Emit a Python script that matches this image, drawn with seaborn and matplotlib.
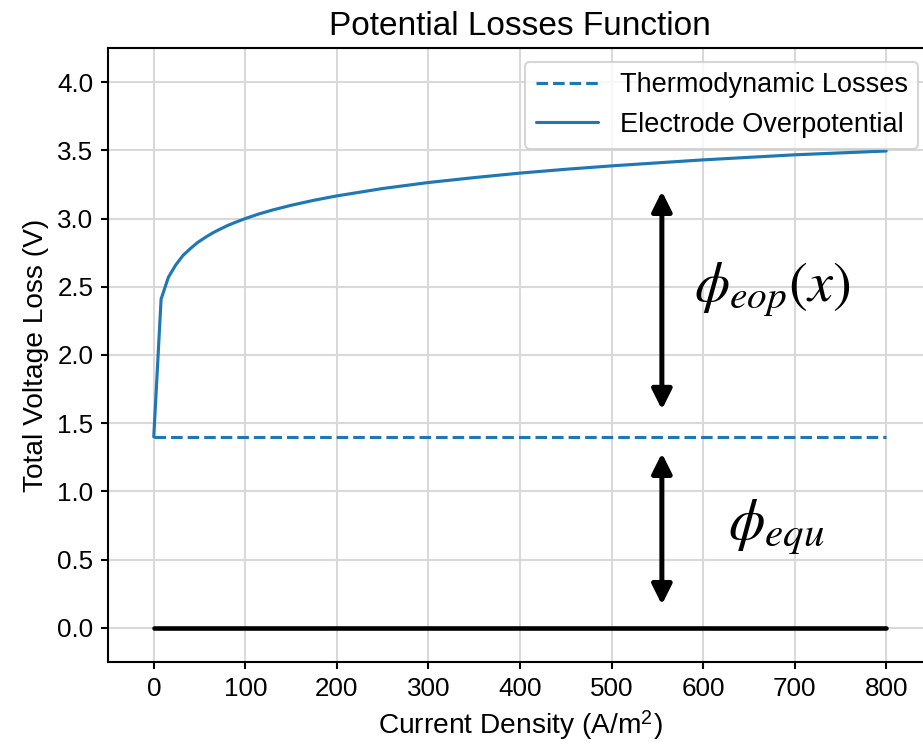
import pandas as pd
import seaborn as sns
import matplotlib.pyplot as plt

# Values
current_density = [0, 8, 16, 24, 32, 40, 48, 57, 65, 73, 81, 89, 100, 115, 130,
                   150, 175, 200, 250, 300, 350, 400, 450, 500, 600, 700, 800]
overpotential = [1.40, 2.41, 2.57, 2.66, 2.73, 2.78, 2.825, 2.865, 2.897, 2.924,
                 2.95, 2.972, 3.00, 3.034, 3.063, 3.097, 3.134, 3.166, 3.22,
                 3.264, 3.30, 3.333, 3.361, 3.386, 3.43, 3.467, 3.495]
thermo_x = [0, 800]
thermo_loss = [1.4, 1.4]
zero_x = [0, 800]
zero_y = [0.0, 0.0]

labels = ["Thermodynamic Losses", "Electrode Overpotential"]
arrow_x = 555
eop_span = (1.6, 3.2)
equ_span = (0.17, 1.28)

sns.set_theme(style="ticks", rc={"axes.grid": True, "grid.color": "#d9d9d9",
                                 "grid.linewidth": 1.0,
                                 "axes.edgecolor": "black", "axes.linewidth": 1.0,
                                 "xtick.color": "black", "ytick.color": "black",
                                 "xtick.major.size": 3.5, "ytick.major.size": 3.5,
                                 "xtick.major.width": 1.0, "ytick.major.width": 1.0,
                                 "axes.labelcolor": "black", "text.color": "black",
                                 "mathtext.fontset": "stix"})
plt.rcParams["font.family"] = ["Liberation Sans", "DejaVu Sans"]

fig = plt.figure(figsize=(923 / 150, 745 / 150), dpi=150)
ax = fig.add_axes([0.117, 0.1114, 0.8927, 0.8242])

df_thermo = pd.DataFrame({"x": thermo_x, "y": thermo_loss})
df_eop = pd.DataFrame({"x": current_density, "y": overpotential})
df_zero = pd.DataFrame({"x": zero_x, "y": zero_y})

sns.lineplot(df_thermo, x="x", y="y", ax=ax, color="#1f77b4", linestyle="--",
             linewidth=1.5, label=labels[0])
sns.lineplot(df_eop, x="x", y="y", ax=ax, color="#1f77b4", linewidth=1.5,
             label=labels[1])
sns.lineplot(df_zero, x="x", y="y", ax=ax, color="black", linewidth=2.2)

# Double-headed arrows marking each loss component
for lo, hi in [eop_span, equ_span]:
    ax.annotate("", xy=(arrow_x, hi), xytext=(arrow_x, lo),
                arrowprops=dict(arrowstyle="<|-|>,head_length=0.8,head_width=0.4",
                                color="black", lw=2.4, mutation_scale=10,
                                shrinkA=0, shrinkB=0))

ax.text(590, 2.48, r"$\phi_{eop}(x)$", fontsize=27, va="center", ha="left")
ax.text(627, 0.74, r"$\phi_{equ}$", fontsize=28, va="center", ha="left")

ax.set_xlim(-50, 850)
ax.set_ylim(-0.25, 4.25)
ax.set_xticks(range(0, 801, 100))
ax.set_yticks([0, 0.5, 1.0, 1.5, 2.0, 2.5, 3.0, 3.5, 4.0])
ax.tick_params(labelsize=12.5)
ax.set_xlabel(r"Current Density (A/m$^\mathregular{2}$)", fontsize=13.5)
ax.set_ylabel("Total Voltage Loss (V)", fontsize=13.5)
ax.set_title("Potential Losses Function", fontsize=16)
ax.legend(loc="upper right", fontsize=13, handlelength=2.3)

fig.savefig("out.png", dpi=150)
